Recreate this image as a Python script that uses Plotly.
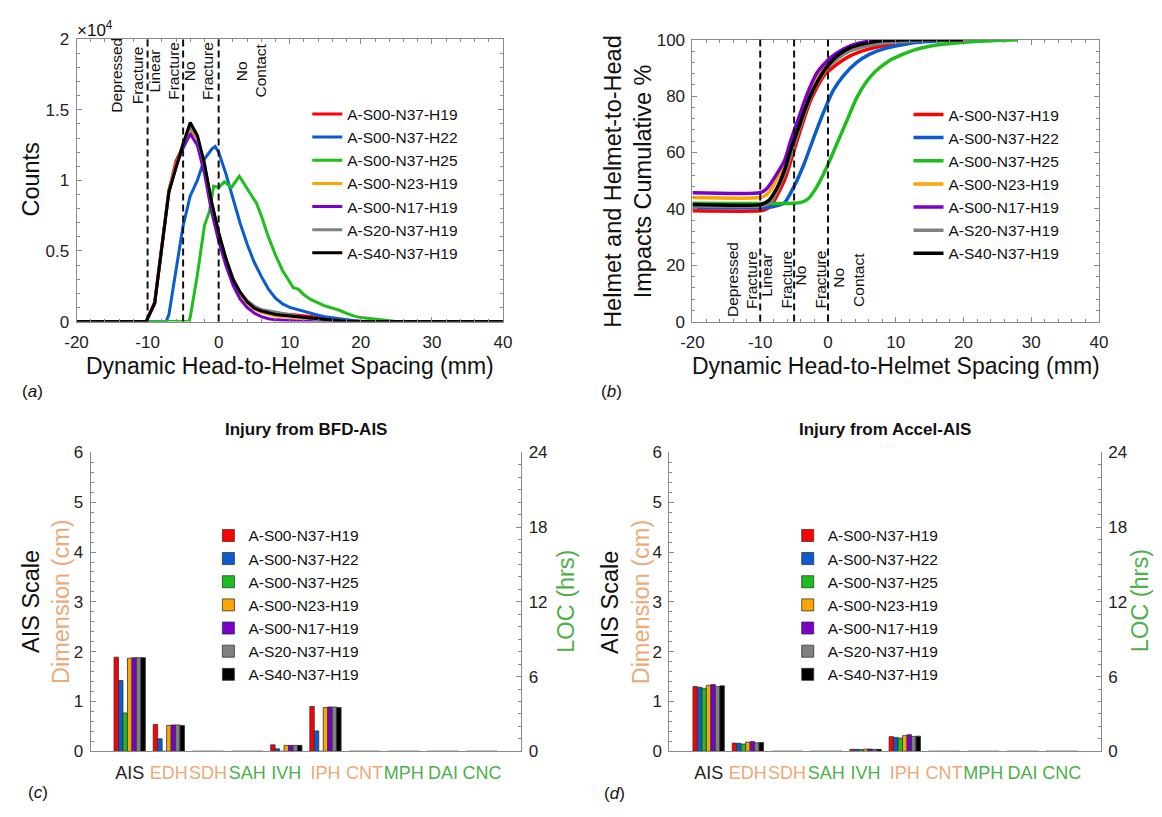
import plotly.graph_objects as go

# ---------------- data ----------------
series_names = ["A-S00-N37-H19", "A-S00-N37-H22", "A-S00-N37-H25", "A-S00-N23-H19",
                "A-S00-N17-H19", "A-S20-N37-H19", "A-S40-N37-H19"]
series_colors = ["#FF0000", "#0A5CD0", "#1DBF1D", "#FFA500", "#7A00CC", "#808080", "#000000"]

spacing_tickvals = [-20, -10, 0, 10, 20, 30, 40]
spacing_ticktext = ["-20", "-10", "0", "10", "20", "30", "40"]

# (a) histogram of dynamic head-to-helmet spacing (counts, x10^4)
hist_x_main = [-20, -10.2, -9, -8, -7, -6, -5, -4, -3, -2, -1, 0, 1, 2, 3, 4, 5, 6, 7, 8, 9,
               10, 11, 12, 13, 14, 15, 16, 17, 18, 19, 20, 40]
hist_red = [0, 0, 0.14, 0.53, 0.93, 1.14, 1.24, 1.36, 1.30, 1.10, 0.84, 0.62, 0.44, 0.30, 0.20, 0.14,
            0.10, 0.08, 0.065, 0.06, 0.055, 0.05, 0.045, 0.04, 0.03, 0.025, 0.02, 0.015, 0.01, 0.005,
            0.002, 0, 0]
hist_orange = [0, 0, 0.14, 0.54, 0.94, 1.11, 1.25, 1.37, 1.30, 1.09, 0.82, 0.60, 0.43, 0.29, 0.19, 0.13,
               0.09, 0.065, 0.05, 0.04, 0.035, 0.03, 0.025, 0.02, 0.015, 0.01, 0.007, 0.004, 0.002, 0,
               0, 0, 0]
hist_purple = [0, 0, 0.13, 0.52, 0.92, 1.10, 1.23, 1.33, 1.25, 1.05, 0.78, 0.57, 0.40, 0.26, 0.16, 0.10,
               0.06, 0.035, 0.02, 0.012, 0.008, 0.005, 0.003, 0.001, 0, 0, 0, 0, 0, 0, 0, 0, 0]
hist_gray = [0, 0, 0.13, 0.52, 0.92, 1.10, 1.26, 1.38, 1.31, 1.11, 0.84, 0.63, 0.45, 0.31, 0.21, 0.15,
             0.11, 0.085, 0.075, 0.07, 0.06, 0.05, 0.04, 0.03, 0.02, 0.012, 0.008, 0.005, 0.003, 0.001,
             0, 0, 0]
hist_black = [0, 0, 0.13, 0.52, 0.92, 1.09, 1.26, 1.41, 1.32, 1.12, 0.85, 0.63, 0.45, 0.30, 0.21, 0.14,
              0.095, 0.075, 0.06, 0.05, 0.045, 0.04, 0.035, 0.025, 0.02, 0.015, 0.01, 0.007, 0.005,
              0.003, 0.001, 0, 0]
hist_x_blue = [-20, -7.4, -7, -6, -5, -4, -3, -2, -1, -0.5, 0, 1, 2, 3, 4, 5, 6, 7, 8, 9, 10,
               11, 12, 13, 14, 15, 16, 17, 18, 19, 20, 21, 40]
hist_blue = [0, 0, 0.05, 0.38, 0.68, 0.89, 1.0, 1.15, 1.22, 1.24, 1.2, 1.05, 0.88, 0.70, 0.55, 0.42,
             0.32, 0.23, 0.165, 0.125, 0.10, 0.085, 0.07, 0.06, 0.045, 0.035, 0.027, 0.02, 0.012,
             0.006, 0.002, 0, 0]
hist_x_green = [-20, -4.2, -4, -3, -2, -1.3, -0.7, 0, 0.8, 1.8, 2.9, 3.9, 4.8, 5.3, 6, 7, 8, 9, 10,
                10.5, 11.2, 12, 13, 14, 15, 16, 17, 18, 19, 20, 21, 22, 23, 24, 25, 26, 40]
hist_green = [0, 0, 0.03, 0.33, 0.68, 0.78, 0.96, 0.95, 0.99, 0.95, 1.03, 0.95, 0.88, 0.84, 0.75, 0.6,
              0.47, 0.36, 0.28, 0.24, 0.23, 0.19, 0.155, 0.13, 0.11, 0.095, 0.08, 0.058, 0.04, 0.028,
              0.022, 0.014, 0.008, 0.004, 0.001, 0, 0]

# (b) cumulative % of helmet and helmet-to-head impacts
cum_x_red = [-20, -10, -9.2, -8.4, -6.4, -4.5, -2.55, -0.6, 1.3, 3.2, 5.7, 8.1, 11, 13, 16, 20]
cum_y_red = [39.3, 39.3, 39.8, 41.1, 50.3, 64.7, 78.6, 87.3, 91.3, 94.2, 96.5, 97.9, 99.0, 99.5, 99.8, 100]
cum_x_blue = [-20, -9, -7.9, -6.4, -5.0, -3.5, -2.1, -0.6, 0.8, 2.3, 4.2, 6.1, 8.1, 11, 13, 16, 20]
cum_y_blue = [40.5, 40.5, 40.9, 42.2, 48.0, 56.1, 65.3, 74.6, 82.1, 87.3, 91.9, 94.8, 96.7, 98.2, 99.0, 99.6, 100]
cum_x_green = [-20, -5, -4, -3.0, -1.6, -0.15, 1.3, 2.75, 4.2, 5.65, 7.1, 9.0, 11, 12.9, 16.3, 21.8, 28]
cum_y_green = [42.0, 42.0, 42.3, 43.4, 48.0, 54.9, 63.0, 71.1, 79.2, 85.0, 89.0, 92.5, 94.8, 96.5, 98.2, 99.4, 100]
cum_x_orange = [-20, -10, -9.2, -8.4, -6.4, -4.5, -2.55, -0.6, 1.3, 4.2, 8.1, 12, 20]
cum_y_orange = [44.0, 44.0, 44.8, 46.9, 56.1, 69.4, 82.1, 90.1, 94.7, 98.2, 99.7, 100, 100]
cum_x_purple = [-20, -10, -9.2, -8.4, -6.4, -5.5, -4.5, -3.5, -2.55, -1.6, -0.6, 0.35, 2.3, 4.2, 7.1, 12, 20]
cum_y_purple = [45.7, 45.7, 46.8, 49.2, 57.2, 64.2, 71.1, 78.0, 83.8, 88.4, 91.3, 93.6, 96.7, 98.6, 99.7, 100, 100]
cum_x_gray = [-20, -10, -9.2, -8.4, -6.4, -4.5, -2.55, -0.6, 1.3, 3.2, 5.7, 8.1, 12, 16, 21]
cum_y_gray = [41.0, 41.0, 41.4, 42.5, 52.5, 66.5, 79.8, 88.4, 93.0, 96.0, 97.8, 98.8, 99.5, 99.9, 100]
cum_x_black = [-20, -10, -8.8, -7.4, -6.4, -5.5, -4.5, -3.5, -2.55, -1.6, -0.6, 0.35, 1.3, 3.2, 5.7, 8.1, 12, 20]
cum_y_black = [41.5, 41.5, 42.8, 48.0, 53.8, 61.0, 67.7, 74.6, 80.4, 85.0, 89.0, 91.9, 94.2, 97.1, 98.8, 99.7, 100, 100]

thresholds = [-10, -5, 0]

# (c), (d) injury bars
categories = ["AIS", "EDH", "SDH", "SAH", "IVH", "IPH", "CNT", "MPH", "DAI", "CNC"]
category_colors = ["#222222", "#ECAA78", "#ECAA78", "#4DB04A", "#4DB04A",
                   "#ECAA78", "#ECAA78", "#4DB04A", "#4DB04A", "#4DB04A"]
bfd_red = [1.89, 0.54, 0, 0, 0.13, 0.90, 0, 0, 0, 0]
bfd_blue = [1.42, 0.25, 0, 0, 0.05, 0.41, 0, 0, 0, 0]
bfd_green = [0.77, 0, 0, 0, 0, 0, 0, 0, 0, 0]
bfd_orange = [1.87, 0.52, 0, 0, 0.12, 0.88, 0, 0, 0, 0]
bfd_purple = [1.88, 0.53, 0, 0, 0.12, 0.89, 0, 0, 0, 0]
bfd_gray = [1.88, 0.53, 0, 0, 0.12, 0.89, 0, 0, 0, 0]
bfd_black = [1.88, 0.52, 0, 0, 0.12, 0.88, 0, 0, 0, 0]
acc_red = [1.30, 0.165, 0, 0, 0.04, 0.295, 0, 0, 0, 0]
acc_blue = [1.285, 0.16, 0, 0, 0.04, 0.28, 0, 0, 0, 0]
acc_green = [1.265, 0.145, 0, 0, 0.035, 0.265, 0, 0, 0, 0]
acc_orange = [1.325, 0.185, 0, 0, 0.045, 0.315, 0, 0, 0, 0]
acc_purple = [1.34, 0.195, 0, 0, 0.045, 0.335, 0, 0, 0, 0]
acc_gray = [1.30, 0.17, 0, 0, 0.04, 0.30, 0, 0, 0, 0]
acc_black = [1.315, 0.178, 0, 0, 0.04, 0.305, 0, 0, 0, 0]

hist_sets = [(hist_x_main, hist_red), (hist_x_blue, hist_blue), (hist_x_green, hist_green),
             (hist_x_main, hist_orange), (hist_x_main, hist_purple), (hist_x_main, hist_gray),
             (hist_x_main, hist_black)]
cum_sets = [(cum_x_red, cum_y_red), (cum_x_blue, cum_y_blue), (cum_x_green, cum_y_green),
            (cum_x_orange, cum_y_orange), (cum_x_purple, cum_y_purple), (cum_x_gray, cum_y_gray),
            (cum_x_black, cum_y_black)]
bfd_sets = [bfd_red, bfd_blue, bfd_green, bfd_orange, bfd_purple, bfd_gray, bfd_black]
acc_sets = [acc_red, acc_blue, acc_green, acc_orange, acc_purple, acc_gray, acc_black]

# ---------------- layout helpers ----------------
W, H = 1162, 817
FONT = "Liberation Sans, Arial, sans-serif"
AX = "#8a8a8a"
TAN = "#ECAA78"
GRN = "#4DB04A"


def fx(p):
    return p / W


def fy(p):
    return 1 - p / H


fig = go.Figure()

# (a)
for (xs, ys), name, col in zip(hist_sets, series_names, series_colors):
    fig.add_trace(go.Scatter(x=xs, y=ys, mode="lines", name=name,
                             line=dict(color=col, width=3), xaxis="x", yaxis="y",
                             legend="legend"))
# (b)
for (xs, ys), name, col in zip(cum_sets, series_names, series_colors):
    fig.add_trace(go.Scatter(x=xs, y=ys, mode="lines", name=name,
                             line=dict(color=col, width=3.5, shape="spline", smoothing=0.6),
                             xaxis="x2", yaxis="y2", legend="legend2"))

cat_pos = list(range(1, len(categories) + 1))
for vals, name, col in zip(bfd_sets, series_names, series_colors):
    fig.add_trace(go.Bar(x=cat_pos, y=vals, name=name,
                         marker=dict(color=col, line=dict(color="#333333", width=0.8)),
                         xaxis="x3", yaxis="y3", legend="legend3"))
for vals, name, col in zip(acc_sets, series_names, series_colors):
    fig.add_trace(go.Bar(x=cat_pos, y=vals, name=name,
                         marker=dict(color=col, line=dict(color="#333333", width=0.8)),
                         xaxis="x4", yaxis="y5", legend="legend4"))
# right (LOC) axes carry no bars
fig.add_trace(go.Scatter(x=[None], y=[None], xaxis="x3", yaxis="y4", showlegend=False, hoverinfo="skip"))
fig.add_trace(go.Scatter(x=[None], y=[None], xaxis="x4", yaxis="y6", showlegend=False, hoverinfo="skip"))

# threshold dashed lines
for xr, yr in [("x", "y domain"), ("x2", "y2 domain")]:
    for t in thresholds:
        fig.add_shape(type="line", xref=xr, yref=yr, x0=t, x1=t, y0=0, y1=1,
                      line=dict(color="#111111", width=2, dash="7px,4px"))

tickfont = dict(size=17, color="#222222", family=FONT)


def box_axis(**kw):
    d = dict(showline=True, linecolor=AX, linewidth=1, mirror="ticks", ticks="inside",
             ticklen=5, tickcolor=AX, tickfont=tickfont, showgrid=False, zeroline=False)
    d.update(kw)
    return d


ticktext = ['<span style="color:%s">%s</span>' % (c, t) for t, c in zip(categories, category_colors)]

bar_x = dict(showline=True, linecolor=AX, linewidth=1, ticks="", showgrid=False, zeroline=False,
             range=[0, 11], tickvals=cat_pos, ticktext=ticktext, ticklabelstandoff=5,
             tickangle=0, tickfont=dict(size=18, family=FONT))
bar_yl = dict(showline=True, linecolor=AX, linewidth=1, ticks="inside", ticklen=5, tickcolor=AX,
              tickfont=tickfont, showgrid=False, zeroline=False, range=[0, 6], dtick=1,
              ticklabelstandoff=3,
              minor=dict(ticks="inside", ticklen=3, dtick=0.2, tickcolor=AX))
bar_yr = dict(showline=True, linecolor=AX, linewidth=1, ticks="inside", ticklen=5, tickcolor=AX,
              tickfont=tickfont, showgrid=False, zeroline=False, range=[0, 24], dtick=6,
              ticklabelstandoff=3,
              side="right", minor=dict(ticks="inside", ticklen=3, dtick=1, tickcolor=AX))

legend_common = dict(xanchor="left", yanchor="top", bgcolor="rgba(0,0,0,0)",
                     font=dict(size=15.5, family=FONT, color="#111111"), tracegroupgap=0)

fig.update_layout(
    width=W, height=H, margin=dict(l=0, r=0, t=0, b=0),
    paper_bgcolor="white", plot_bgcolor="white",
    font=dict(family=FONT, color="#111111"),
    barmode="group", bargap=0.2, bargroupgap=0.0,
    xaxis=box_axis(domain=[fx(65.7), fx(500)], range=[-20, 40], anchor="y",
                   tickvals=spacing_tickvals, ticktext=spacing_ticktext, ticklabelstandoff=5,
                   minor=dict(ticks="inside", ticklen=3, dtick=2, tickcolor=AX)),
    yaxis=box_axis(domain=[fy(320), fy(31)], range=[0, 2], dtick=0.5, anchor="x",
                   ticklabelstandoff=3,
                   minor=dict(ticks="inside", ticklen=3, dtick=0.1, tickcolor=AX)),
    xaxis2=box_axis(domain=[fx(693), fx(1107)], range=[-20, 40], anchor="y2",
                    tickvals=spacing_tickvals, ticktext=spacing_ticktext, ticklabelstandoff=5,
                    minor=dict(ticks="inside", ticklen=3, dtick=2, tickcolor=AX)),
    yaxis2=box_axis(domain=[fy(320), fy(31.5)], range=[0, 100], dtick=20, anchor="x2",
                    ticklabelstandoff=3,
                    minor=dict(ticks="inside", ticklen=3, dtick=4, tickcolor=AX)),
    xaxis3=dict(bar_x, domain=[fx(80), fx(518.6)], anchor="y3"),
    yaxis3=dict(bar_yl, domain=[fy(760), fy(454)], anchor="x3"),
    yaxis4=dict(bar_yr, overlaying="y3", anchor="x3"),
    xaxis4=dict(bar_x, domain=[fx(669.5), fx(1109)], anchor="y5"),
    yaxis5=dict(bar_yl, domain=[fy(760), fy(454)], anchor="x4"),
    yaxis6=dict(bar_yr, overlaying="y5", anchor="x4"),
    legend=dict(legend_common, x=fx(300.7), y=fy(90.5)),
    legend2=dict(legend_common, x=fx(913), y=fy(91)),
    legend3=dict(legend_common, x=fx(200), y=fy(522)),
    legend4=dict(legend_common, x=fx(790), y=fy(522)),
    showlegend=True,
)

ann = []


def add_text(text, x, y, size, xref="paper", yref="paper", angle=0, color="#111111",
             xanchor="center", yanchor="middle"):
    ann.append(dict(text=text, x=x, y=y, xref=xref, yref=yref, textangle=angle, showarrow=False,
                    font=dict(size=size, color=color, family=FONT), xanchor=xanchor, yanchor=yanchor))


# region labels (a)
for t, xv, yv in [("Depressed", -14.3, 1.742), ("Fracture", -11.4, 1.742), ("Linear", -9.0, 1.776),
                  ("Fracture", -6.3, 1.776), ("No", -4.0, 1.776), ("Fracture", -1.5, 1.776),
                  ("No", 3.2, 1.776), ("Contact", 5.9, 1.776)]:
    add_text(t, xv, yv, 15.5, xref="x", yref="y", angle=-90)
# region labels (b)
for t, xv, yv in [("Depressed", -14.0, 14.8), ("Fracture", -11.2, 14.8), ("Linear", -9.0, 16.3),
                  ("Fracture", -6.1, 14.8), ("No", -4.0, 16.3), ("Fracture", -1.1, 14.8),
                  ("No", 1.6, 15.5), ("Contact", 4.4, 14.7)]:
    add_text(t, xv, yv, 15.5, xref="x2", yref="y2", angle=-90)

# axis titles
add_text("×10<sup>4</sup>", fx(64), fy(20), 17, xanchor="left")
add_text("Counts", fx(19), fy(175), 23.5, angle=-90)
add_text("Dynamic Head-to-Helmet Spacing (mm)", fx(283), fy(365), 23)
add_text("Dynamic Head-to-Helmet Spacing (mm)", fx(900), fy(365), 23)
add_text("Helmet and Helmet-to-Head", fx(612), fy(176), 23.5, angle=-90)
add_text("Impacts Cumulative %", fx(643), fy(176), 23.5, angle=-90)

add_text("<b>Injury from BFD-AIS</b>", fx(299), fy(431), 17)
add_text("<b>Injury from Accel-AIS</b>", fx(889), fy(431), 17)
add_text("AIS Scale", fx(19.5), fy(607), 23.5, angle=-90)
add_text("Dimension (cm)", fx(50), fy(607), 23.5, angle=-90, color=TAN)
add_text("LOC (hrs)", fx(564), fy(606), 23.5, angle=-90, color=GRN)
add_text("AIS Scale", fx(609), fy(607), 23.5, angle=-90)
add_text("Dimension (cm)", fx(640), fy(607), 23.5, angle=-90, color=TAN)
add_text("LOC (hrs)", fx(1149), fy(606), 23.5, angle=-90, color=GRN)

# panel labels
add_text("(<i>a</i>)", fx(8), fy(392), 17, xanchor="left")
add_text("(<i>b</i>)", fx(598), fy(392), 17, xanchor="left")
add_text("(<i>c</i>)", fx(14), fy(802), 17, xanchor="left")
add_text("(<i>d</i>)", fx(601), fy(803), 17, xanchor="left")

fig.update_layout(annotations=ann)

fig.write_html("out.html", config={"displayModeBar": False},
               post_script="document.body.style.margin='0';document.body.style.overflow='hidden';")
